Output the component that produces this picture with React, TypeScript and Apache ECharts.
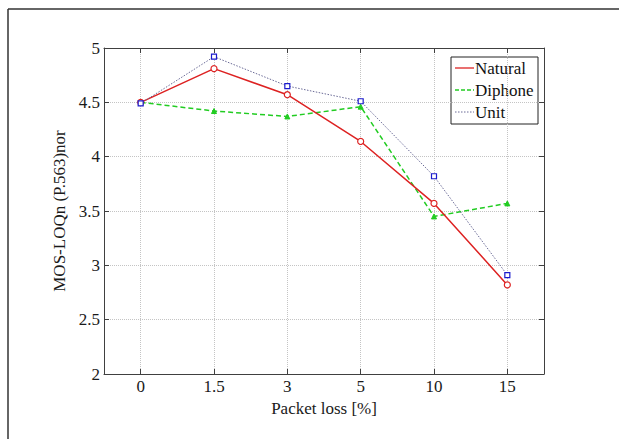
import React, { useEffect, useRef } from "react";
import * as echarts from "echarts";

const categories = ["0", "1.5", "3", "5", "10", "15"];
const seriesNames = ["Natural", "Diphone", "Unit"];
const natural = [4.5, 4.81, 4.57, 4.14, 3.57, 2.82];
const diphone = [4.5, 4.42, 4.37, 4.46, 3.45, 3.57];
const unit = [4.49, 4.92, 4.65, 4.51, 3.82, 2.91];
const yTicks = { min: 2, max: 5, interval: 0.5 };

const FONT = "'Liberation Serif', 'DejaVu Serif', serif";

export default function App() {
  const ref = useRef<HTMLDivElement>(null);
  useEffect(() => {
    if (!ref.current) return;
    const chart = echarts.init(ref.current, null, { renderer: "svg" });
    const toPairs = (arr: number[]) => arr.map((v, i) => [i, v]);
    const axisLine = { show: true, onZero: false, lineStyle: { color: "#404040", width: 1 } };
    const tickInside = { show: true, inside: true, length: 5, lineStyle: { color: "#404040" } };
    const gridLine = { show: true, lineStyle: { color: "#c4c4c4", type: "dotted", width: 1 } };
    const labelStyle = { fontFamily: FONT, fontSize: 17, color: "#1a1a1a" };
    const colors = ["#dd2222", "#22cc22", "#6a6a96"];
    const legendY = [68, 90, 112];
    const legendDash: any[] = ["solid", [4, 2], [1.5, 1.5]];
    const option: any = {
      animation: false,
      backgroundColor: "#fff",
      grid: { left: 104, right: 75, top: 48, bottom: 65, containLabel: false },
      xAxis: [
        {
          type: "value",
          min: -0.5,
          max: 5.5,
          splitNumber: 6,
          position: "bottom",
          name: "Packet loss [%]",
          nameLocation: "middle",
          nameGap: 18,
          nameTextStyle: labelStyle,
          axisLine,
          axisTick: tickInside,
          splitLine: gridLine,
          axisLabel: {
            ...labelStyle,
            margin: 4,
            formatter: (v: number) =>
              Number.isInteger(v) && v >= 0 && v < categories.length ? categories[v] : "",
          },
        },
        {
          type: "value",
          min: -0.5,
          max: 5.5,
          splitNumber: 6,
          position: "top",
          axisLine,
          axisTick: tickInside,
          splitLine: { show: false },
          axisLabel: { show: false },
        },
      ],
      yAxis: [
        {
          type: "value",
          ...yTicks,
          position: "left",
          name: "MOS-LOQn (P.563)nor",
          nameLocation: "middle",
          nameGap: 32,
          nameTextStyle: labelStyle,
          axisLine,
          axisTick: tickInside,
          splitLine: gridLine,
          axisLabel: { ...labelStyle, margin: 4 },
        },
        {
          type: "value",
          ...yTicks,
          position: "right",
          axisLine,
          axisTick: tickInside,
          splitLine: { show: false },
          axisLabel: { show: false },
        },
      ],
      series: [
        {
          name: seriesNames[0],
          type: "line",
          data: toPairs(natural),
          symbol: "circle",
          symbolSize: 6,
          showAllSymbol: true,
          lineStyle: { color: colors[0], width: 1.5 },
          itemStyle: { color: "#fff", borderColor: colors[0], borderWidth: 1.2 },
          z: 3,
        },
        {
          name: seriesNames[1],
          type: "line",
          data: toPairs(diphone),
          symbol: "triangle",
          symbolSize: 5,
          lineStyle: { color: colors[1], width: 1.5, type: [5, 3] },
          itemStyle: { color: colors[1], borderColor: colors[1], borderWidth: 1 },
          z: 2,
        },
        {
          name: seriesNames[2],
          type: "line",
          data: toPairs(unit),
          symbol: "rect",
          symbolSize: 5,
          lineStyle: { color: colors[2], width: 1, type: [1.5, 1.5] },
          itemStyle: { color: "#fff", borderColor: "#1a1acc", borderWidth: 1.2 },
          z: 4,
        },
      ],
      graphic: [
        {
          type: "line",
          shape: { x1: 8, y1: 9, x2: 619, y2: 9 },
          style: { stroke: "#333", lineWidth: 1.5 },
        },
        {
          type: "line",
          shape: { x1: 8, y1: 9, x2: 8, y2: 439 },
          style: { stroke: "#333", lineWidth: 1.5 },
        },
        {
          type: "group",
          z: 100,
          children: [
            {
              type: "rect",
              shape: { x: 451, y: 57, width: 87, height: 67 },
              style: { fill: "#fff", stroke: "#222", lineWidth: 1 },
            },
            ...seriesNames.flatMap((n, i) => [
              {
                type: "line",
                shape: { x1: 455, y1: legendY[i], x2: 474, y2: legendY[i] },
                style: { stroke: colors[i], lineWidth: i === 2 ? 1 : 1.3, lineDash: legendDash[i] === "solid" ? null : legendDash[i] },
              },
              {
                type: "text",
                x: 475,
                y: legendY[i],
                style: {
                  text: n,
                  font: `17px ${FONT}`,
                  fill: "#111",
                  verticalAlign: "middle",
                  align: "left",
                },
              },
            ]),
          ],
        },
      ],
    };
    chart.setOption(option);
    return () => chart.dispose();
  }, []);
  return (
    <div
      ref={ref}
      style={{ position: "fixed", left: 0, top: 0, width: 619, height: 439 }}
    />
  );
}
